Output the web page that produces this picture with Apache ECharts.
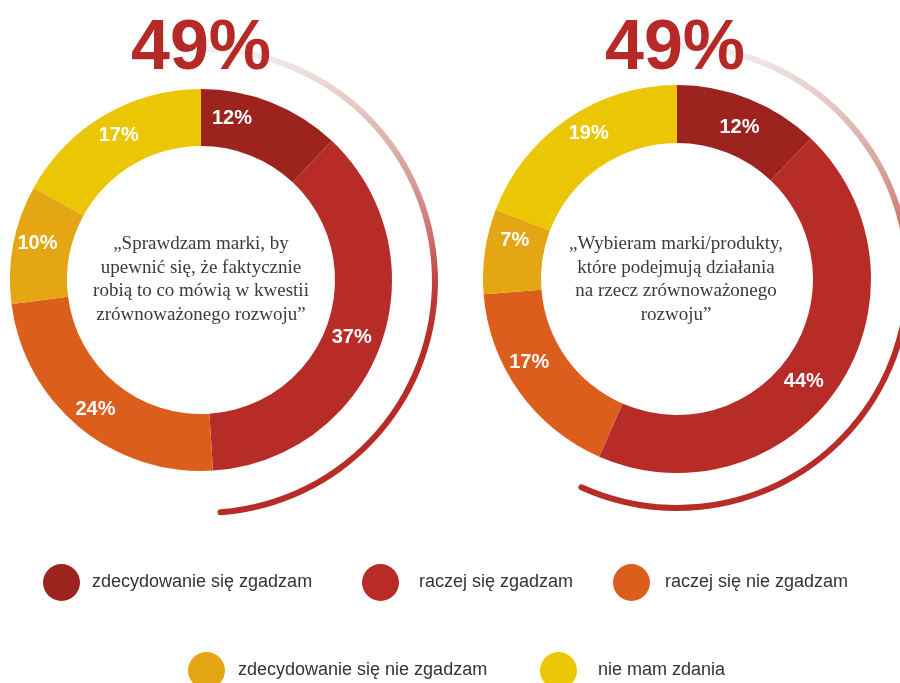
<!DOCTYPE html>
<html>
<head>
<meta charset="utf-8">
<title>Zrównoważony rozwój</title>
<script src="https://cdn.jsdelivr.net/npm/echarts@6/dist/echarts.min.js"></script>
<style>
html, body { margin: 0; padding: 0; background: #fff; }
#chart { width: 900px; height: 683px; }
</style>
</head>
<body>
<div id="chart"></div>
<script>
// dane
var categories = ['zdecydowanie się zgadzam', 'raczej się zgadzam', 'raczej się nie zgadzam', 'zdecydowanie się nie zgadzam', 'nie mam zdania'];
var valuesLeft = [12, 37, 24, 10, 17];
var valuesRight = [12, 44, 17, 7, 19];
var headlines = ['49%', '49%'];
var arcValues = [49, 57]; // dlugosc luku (%)
var questionLeft = ['„Sprawdzam marki, by', 'upewnić się, że faktycznie', 'robią to co mówią w kwestii', 'zrównoważonego rozwoju”'];
var questionRight = ['„Wybieram marki/produkty,', 'które podejmują działania', 'na rzecz zrównoważonego', 'rozwoju”'];

var colors = ['#9c231e', '#b82c28', '#dc5e1d', '#e4a613', '#eac604'];
var sans = '"Liberation Sans", Arial, sans-serif';
var serif = '"Liberation Serif", "Times New Roman", serif';

// przesuniecia etykiet (tak jak na oryginale)
var offsetsLeft = [[-30, -8], [-5, 1], [0, 2], [-1, -6], [2, -2]];
var offsetsRight = [[0, 4], [-13, 9], [-11, -14], [4, -15], [7, -7]];

var arcColor = {
	type: 'linear', x: 0, y: 0, x2: 0, y2: 1,
	colorStops: [
		{offset: 0, color: '#f2f2f2'},
		{offset: 0.1, color: '#e8cfcc'},
		{offset: 0.3, color: '#d49893'},
		{offset: 0.41, color: '#cc6e68'},
		{offset: 0.52, color: '#be3c36'},
		{offset: 0.63, color: '#b82c28'},
		{offset: 1, color: '#b82c28'}
	]
};

function donut(values, center, radius, offsets) {
	return {
		type: 'pie',
		center: center,
		radius: radius,
		startAngle: 90,
		clockwise: true,
		silent: true,
		avoidLabelOverlap: false,
		itemStyle: { borderWidth: 0 },
		label: {
			show: true,
			position: 'inside',
			formatter: '{c}%',
			color: '#fff',
			fontSize: 20,
			fontWeight: 'bold',
			fontFamily: sans
		},
		labelLine: { show: false },
		data: values.map(function(v, i) {
			return { name: categories[i], value: v, itemStyle: { color: colors[i] }, label: { offset: offsets[i] } };
		})
	};
}

// luk wokol wykresu
function ring(total, center, radius) {
	return {
		type: 'pie',
		center: center,
		radius: radius,
		startAngle: 90,
		clockwise: true,
		silent: true,
		label: { show: false },
		labelLine: { show: false },
		emphasis: { disabled: true },
		data: [
			{ name: 'luk', value: total, itemStyle: { color: arcColor, borderRadius: 3, borderWidth: 0 } },
			{ name: 'reszta', value: 100 - total, itemStyle: { color: 'rgba(0,0,0,0)', borderWidth: 0 } }
		]
	};
}

var legendPos = [[43, 564], [362, 564], [613, 564], [188, 652], [540, 652]];
var legendGap = [12, 20, 15, 13, 21];

var chart = echarts.init(document.getElementById('chart'));
var option = {
	animation: false,
	title: [
		{ text: headlines[0], left: 201, top: 15, textAlign: 'center', padding: 0,
		  textStyle: { fontSize: 70, fontWeight: 'bold', color: '#b52a26', fontFamily: sans } },
		{ text: headlines[1], left: 675, top: 15, textAlign: 'center', padding: 0,
		  textStyle: { fontSize: 70, fontWeight: 'bold', color: '#b52a26', fontFamily: sans } },
		{ text: questionLeft.join('\n'), left: 201, top: 232, textAlign: 'center', padding: 0,
		  textStyle: { fontSize: 19, lineHeight: 23.7, fontWeight: 'normal', color: '#3a3a3a', fontFamily: serif } },
		{ text: questionRight.join('\n'), left: 676, top: 232, textAlign: 'center', padding: 0,
		  textStyle: { fontSize: 19, lineHeight: 23.7, fontWeight: 'normal', color: '#3a3a3a', fontFamily: serif } }
	],
	legend: categories.map(function(name, i) {
		return {
			data: [name],
			left: legendPos[i][0],
			top: legendPos[i][1],
			padding: 0,
			icon: 'circle',
			itemWidth: 37,
			itemHeight: 37,
			selectedMode: false,
			textStyle: { fontSize: 18, color: '#333', fontFamily: sans, padding: [0, 0, 0, legendGap[i] - 5] }
		};
	}),
	series: [
		ring(arcValues[0], [203, 281], [229, 235]),
		ring(arcValues[1], [677, 277], [228, 234]),
		donut(valuesLeft, [201, 280], [134, 191], offsetsLeft),
		donut(valuesRight, [677, 279], [136, 194], offsetsRight)
	]
};
chart.setOption(option);
</script>
</body>
</html>
